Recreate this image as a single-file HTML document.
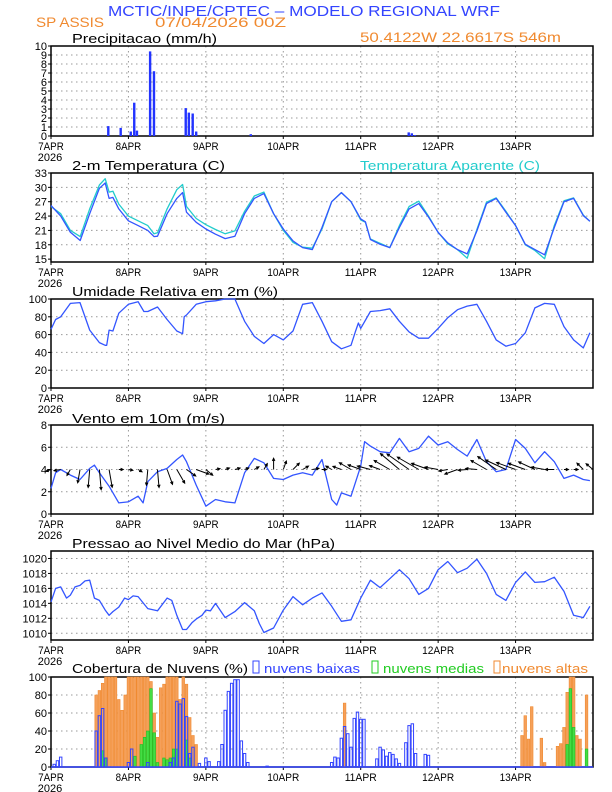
<!DOCTYPE html>
<html><head><meta charset="utf-8"><style>
html,body{margin:0;padding:0;background:#fff}
svg{display:block;font-family:"Liberation Sans",sans-serif}
</style></head><body>
<svg id="chart" width="612" height="792" viewBox="0 0 612 792" xmlns="http://www.w3.org/2000/svg">
<text x="108" y="16" font-size="15" fill="#3344ff" textLength="392" lengthAdjust="spacingAndGlyphs">MCTIC/INPE/CPTEC – MODELO REGIONAL WRF</text>
<text x="36" y="27" font-size="14" fill="#f08a30" textLength="68" lengthAdjust="spacingAndGlyphs">SP ASSIS</text>
<text x="155" y="27" font-size="14" fill="#f08a30" textLength="131" lengthAdjust="spacingAndGlyphs">07/04/2026 00Z</text>
<text x="360" y="42" font-size="14" fill="#f08a30" textLength="201" lengthAdjust="spacingAndGlyphs">50.4122W 22.6617S 546m</text>
<text x="72" y="43" font-size="13" textLength="145" lengthAdjust="spacingAndGlyphs">Precipitacao (mm/h)</text>
<text x="72" y="170" font-size="13" textLength="153" lengthAdjust="spacingAndGlyphs">2-m Temperatura (C)</text>
<text x="360" y="170" font-size="13" fill="#22cccc" textLength="180" lengthAdjust="spacingAndGlyphs">Temperatura Aparente (C)</text>
<text x="72" y="296" font-size="13" textLength="206" lengthAdjust="spacingAndGlyphs">Umidade Relativa em 2m (%)</text>
<text x="72" y="423" font-size="13" textLength="153" lengthAdjust="spacingAndGlyphs">Vento em 10m (m/s)</text>
<text x="72" y="548" font-size="13" textLength="263" lengthAdjust="spacingAndGlyphs">Pressao ao Nivel Medio do Mar (hPa)</text>
<text x="72" y="673" font-size="13" textLength="176" lengthAdjust="spacingAndGlyphs">Cobertura de Nuvens (%)</text>
<rect x="253" y="661" width="6" height="12" fill="none" stroke="#3344ff"/>
<text x="264" y="673" font-size="13" fill="#3344ff" textLength="96" lengthAdjust="spacingAndGlyphs">nuvens baixas</text>
<rect x="372" y="661" width="6" height="12" fill="none" stroke="#22cc22"/>
<text x="383" y="673" font-size="13" fill="#22cc22" textLength="101" lengthAdjust="spacingAndGlyphs">nuvens medias</text>
<rect x="494" y="661" width="6" height="12" fill="none" stroke="#f08a30"/>
<text x="502" y="673" font-size="13" fill="#f08a30" textLength="86" lengthAdjust="spacingAndGlyphs">nuvens altas</text>
</svg>
<script>
// ---------- data (times in days since 7APR 00Z) ----------
var dayLabels=["7APR","8APR","9APR","10APR","11APR","12APR","13APR"];
var precipT=[0.74,0.9,1.03,1.075,1.11,1.28,1.33,1.74,1.78,1.83,1.875,2.58,4.62,4.66,4.7];
var precipV=[1.1,0.9,0.5,3.7,0.6,9.4,7.2,3.1,2.6,2.5,0.5,0.2,0.4,0.3,0.1];
var tempT=[0,0.125,0.25,0.377,0.5,0.625,0.7,0.75,0.8,0.875,1,1.125,1.25,1.33,1.375,1.5,1.625,1.7,1.75,1.875,2,2.125,2.25,2.375,2.5,2.625,2.75,2.875,3,3.125,3.25,3.375,3.5,3.625,3.75,3.875,4,4.06,4.125,4.25,4.375,4.5,4.625,4.75,4.875,5,5.125,5.25,5.375,5.5,5.625,5.75,5.875,6,6.125,6.25,6.375,6.5,6.625,6.75,6.875,6.96];
var tempV=[26.2,24,20.6,18.9,24.5,29.8,30.9,27.7,27.9,25.5,23,22,21,19.7,19.8,24.5,27.7,28.9,24.8,22.7,21.3,20.2,19.3,19.8,24.5,27.7,28.7,24.5,21.3,18.8,17.4,17,21.6,27,28.9,27,23.4,22.8,19.1,18.1,17.4,21.6,25.5,26.6,23.8,20.6,18.4,17,16.1,20.9,26.6,27.7,24.8,22,18.1,17,15.9,21.6,27,27.7,24.1,22.9];
var appTempV=[26,24.5,21,19.7,25.5,30.5,31.8,29,29.2,26.5,24,23,22,20.3,20.5,25.5,29.5,30.6,26,23.5,22.2,21.2,20.3,20.9,25,28.2,29,24.5,21,18.5,17.5,17.3,21.3,27,28.9,27,23.2,22.7,19.2,18.3,17.4,22,26,27.1,24,20.6,18.2,17,15.2,21.2,26.9,27.8,25,22,18,16.8,15.1,22,27.2,27.8,24.2,22.9];
var rhT=[0,0.06,0.125,0.25,0.375,0.5,0.625,0.7,0.72,0.75,0.8,0.875,1,1.125,1.2,1.25,1.375,1.5,1.625,1.7,1.72,1.75,1.875,2,2.125,2.25,2.375,2.5,2.625,2.75,2.875,3,3.125,3.25,3.375,3.5,3.625,3.75,3.875,3.93,3.97,4,4.125,4.25,4.375,4.5,4.625,4.75,4.875,5,5.125,5.25,5.375,5.5,5.625,5.75,5.875,6,6.125,6.25,6.375,6.5,6.625,6.75,6.875,6.96];
var rhV=[66,77,80,95,96,65,51,48,48,65,64,84,94,97,86,86,91,77,64,61,80,82,94,97,98,100,100,75,58,50,60,54,64,94,96,75,52,44,48,63,73,67,86,87,89,75,63,56,56,67,79,88,92,94,75,54,47,50,62,90,95,94,69,54,45,62];
var windT=[0,0.06,0.125,0.25,0.375,0.5,0.56,0.625,0.75,0.875,1,1.125,1.19,1.25,1.375,1.5,1.625,1.7,1.75,1.875,2,2.125,2.25,2.375,2.5,2.625,2.75,2.875,3,3.125,3.25,3.375,3.5,3.625,3.69,3.75,3.875,4,4.05,4.125,4.25,4.375,4.5,4.625,4.75,4.875,5,5.125,5.25,5.375,5.5,5.625,5.75,5.875,6,6.125,6.25,6.375,6.5,6.625,6.75,6.875,6.96];
var windV=[2.3,3.7,4,3.5,3.1,4.1,4.4,3.7,2.5,1,1.1,1.6,1,2.9,3.8,4.1,4.9,5.3,4.7,2.6,0.7,1.3,1.1,1,3.7,5,4.6,3.2,3.1,3.5,3.7,3.5,4.9,1.3,0.8,1.9,1.6,4.3,6.5,6.1,5.6,5.5,6.8,5.6,5.9,7,6.2,6.5,5.8,5.2,6.7,4.7,3.8,4,6.7,5.9,4.6,5.6,4.7,3.2,3.5,3.1,3];
var arrowDir=[200,190,240,260,265,275,280,0,350,330,265,275,290,300,325,340,320,10,20,15,20,30,60,90,70,45,30,10,0,150,160,150,160,165,160,150,140,145,150,160,170,190,200,185,175,150,145,155,160,160,155,170,180,0,0,135,140];
var arrowSpd=[1.2,1.5,1.5,3,4,4.5,4,1,1,1,3.5,4,3.5,3.5,2.5,3,2,1,1,1.2,1,1.2,1.5,2.5,2,2,1.5,1.5,1,1.5,2,3,3,3,2.5,4,5.5,6,5.5,4,3,2,3,2,2.5,4,5,5,4.5,4,4,3,2,1,1,2,2];
var presT=[0,0.06,0.125,0.2,0.25,0.31,0.375,0.44,0.5,0.56,0.625,0.7,0.75,0.8,0.875,0.95,1,1.06,1.125,1.25,1.375,1.5,1.56,1.625,1.7,1.75,1.82,1.875,1.95,2,2.06,2.125,2.25,2.375,2.5,2.625,2.69,2.75,2.875,3,3.125,3.25,3.375,3.5,3.625,3.75,3.875,4,4.125,4.25,4.375,4.5,4.625,4.75,4.875,5,5.125,5.25,5.375,5.5,5.625,5.75,5.875,6,6.125,6.25,6.375,6.5,6.625,6.75,6.875,6.96];
var presV=[1014.2,1016,1016.2,1014.7,1015.1,1016.2,1016.4,1017,1017.1,1014.7,1014.4,1013.1,1012.4,1012.9,1013.5,1014.7,1014.5,1015,1014.9,1013.3,1013,1014.7,1014.4,1012.4,1010.5,1010.5,1011.4,1011.9,1012.4,1013.1,1013,1014,1012.1,1012.9,1014.1,1013,1011.3,1010.1,1010.7,1013.1,1014.9,1013.8,1014.7,1015.4,1013.6,1011.6,1011.8,1014.7,1017.1,1016.1,1017.3,1018.5,1017.3,1015.2,1016,1018.5,1019.6,1018.1,1018.7,1019.9,1018,1015.2,1014.4,1016.8,1018.2,1016.8,1016.9,1017.5,1015.6,1012.4,1012.1,1013.6];
var highH=[14,15,16,17,18,19,20,21,22,23,24,25,26,27,28,29,30,31,32,33,34,35,36,37,38,39,40,41,42,43,44,45,91,146,147,148,149,152,153,157,158,159,160,161,162,163,164,166];
var highV=[80,85,93,100,100,100,100,75,63,80,100,100,100,100,100,100,100,95,60,33,88,92,100,100,100,100,75,100,92,55,35,25,71,35,57,31,67,32,5,23,26,44,83,100,100,35,31,80];
var midH=[16,17,26,28,29,30,31,32,33,35,36,37,38,39,42,43,160,161,162,166];
var midV=[18,10,12,25,33,40,87,38,5,10,8,10,20,20,30,10,25,87,44,20];
var lowH=[1,2,3,14,15,16,17,24,25,30,37,38,39,40,41,42,43,44,46,48,49,52,53,54,55,56,57,58,59,60,61,67,87,88,89,90,91,92,93,94,95,96,97,101,102,103,104,105,106,107,108,110,111,112,113,116,117];
var lowV=[3,7,11,40,57,65,10,5,20,5,5,10,73,70,76,56,15,22,4,10,6,6,25,63,84,93,97,97,29,15,5,1,5,11,10,32,45,37,22,54,61,53,53,9,22,19,12,16,14,9,4,27,46,48,15,14,13];

// ---------- drawing ----------
var svg=document.getElementById('chart');
var NS='http://www.w3.org/2000/svg';
var X0=51,X1=593,DAYS=7;
function X(d){return X0+d*(X1-X0)/DAYS;}
function mk(tag,attrs,parent){var e=document.createElementNS(NS,tag);for(var k in attrs)e.setAttribute(k,attrs[k]);(parent||svg).appendChild(e);return e;}
function panel(name,top,bot,ymin,ymax,ticks,grid){
  var g=mk('g',{});
  
  
  var Y=function(v){return bot-(v-ymin)*(bot-top)/(ymax-ymin);};
  for(var d=1;d<DAYS;d++){
    var gl=mk('line',{x1:X(d),x2:X(d),y1:top,y2:bot,stroke:'#999','stroke-dasharray':'1.5,3.5','stroke-width':1},g);
    
    
  }
  grid.forEach(function(v){
    var hl=mk('line',{x1:X0,x2:X1,y1:Y(v),y2:Y(v),stroke:'#999','stroke-dasharray':'1.5,3.5','stroke-width':1},g);
    
    
  });
  ticks.forEach(function(v){
    var t=mk('text',{x:47,y:Y(v)+4,'font-size':11,'text-anchor':'end'},g);
    t.textContent=String(v);
    
    
    mk('line',{x1:X0-3,x2:X0,y1:Y(v),y2:Y(v),stroke:'#000'},g);
  });
  for(var d2=0;d2<DAYS;d2++){
    var dl=mk('text',{x:X(d2),y:bot+14,'font-size':11,'text-anchor':'middle',textLength:dayLabels[d2].length*6.4,lengthAdjust:'spacingAndGlyphs'},g);
    dl.textContent=dayLabels[d2];
    
    
    mk('line',{x1:X(d2),x2:X(d2),y1:bot,y2:bot+3,stroke:'#000'},g);
  }
  var yr=mk('text',{x:50,y:bot+25,'font-size':11,'text-anchor':'middle'},g);
  yr.textContent='2026';
  
  
  var fr=mk('rect',{x:X0,y:top,width:X1-X0,height:bot-top,fill:'none',stroke:'#000','stroke-width':1.5},g);
  
  
  return {g:g,Y:Y};
}
function line(p,T,V,color,name){
  var d=T.map(function(t,i){return (i?'L':'M')+X(t).toFixed(1)+','+p.Y(V[i]).toFixed(1);}).join('');
  var e=mk('path',{d:d,fill:'none',stroke:color,'stroke-width':1.3,'stroke-linejoin':'round'},p.g);
  
  
}
// precip
var pp=panel('precip',46,136,0,10,[0,1,2,3,4,5,6,7,8,9,10],[1,2,3,4,5,6,7,8,9]);
precipT.forEach(function(t,i){
  var b=mk('rect',{x:X(t)-1.2,y:pp.Y(precipV[i]),width:2.4,height:pp.Y(0)-pp.Y(precipV[i]),fill:'#2233ff'},pp.g);
  
  
});
// temperature
var tp=panel('temp',173,262,14.4,33,[15,18,21,24,27,30,33],[18,21,24,27,30]);
line(tp,tempT,appTempV,'#22cccc','apparent-temp-line');
line(tp,tempT,tempV,'#3355ff','temp-line');
// humidity
var hp=panel('rh',299,388,0,100,[0,20,40,60,80,100],[20,40,60,80]);
line(hp,rhT,rhV,'#3355ff','rh-line');
// wind
var wp=panel('wind',425,514,0,8,[0,2,4,6,8],[2,4,6]);
line(wp,windT,windV,'#3355ff','wind-speed-line');
arrowDir.forEach(function(a,i){
  var t=i/8, x=X(t), y=wp.Y(4), L=arrowSpd[i]*4.5, r=a*Math.PI/180;
  var x2=x+L*Math.cos(r), y2=y-L*Math.sin(r);
  var h1=r+Math.PI-0.45, h2=r+Math.PI+0.45, hl=3;
  var d='M'+x+','+y+'L'+x2+','+y2+'M'+(x2+hl*Math.cos(h1))+','+(y2-hl*Math.sin(h1))+'L'+x2+','+y2+'L'+(x2+hl*Math.cos(h2))+','+(y2-hl*Math.sin(h2));
  var e=mk('path',{d:d,stroke:'#000','stroke-width':1,fill:'none'},wp.g);
  
  
});
// pressure
var prp=panel('pressure',551,640,1009.1,1021,[1010,1012,1014,1016,1018,1020],[1010,1012,1014,1016,1018,1020]);
line(prp,presT,presV,'#3355ff','pressure-line');
// clouds
var cp=panel('cloud',677,767,0,100,[0,20,40,60,80,100],[20,40,60,80]);
var BW=(X1-X0)/168;
highH.forEach(function(h,i){
  var b=mk('rect',{x:X(h/24)-BW/2+0.3,y:cp.Y(highV[i]),width:BW-0.6,height:cp.Y(0)-cp.Y(highV[i]),fill:'#f5a05a',stroke:'#f08a30','stroke-width':0.6},cp.g);
  
  
});
midH.forEach(function(h,i){
  var b=mk('rect',{x:X(h/24)-BW/2+0.3,y:cp.Y(midV[i]),width:BW-0.6,height:cp.Y(0)-cp.Y(midV[i]),fill:'#44dd44',stroke:'#22bb22','stroke-width':0.6},cp.g);
  
  
});
lowH.forEach(function(h,i){
  var b=mk('rect',{x:X(h/24)-BW/2+0.4,y:cp.Y(lowV[i]),width:BW-0.8,height:cp.Y(0)-cp.Y(lowV[i]),fill:'none',stroke:'#3344ff','stroke-width':1},cp.g);
  
  
});
var base=mk('line',{x1:X0,x2:X1,y1:cp.Y(0),y2:cp.Y(0),stroke:'#3344ff','stroke-width':1.5},cp.g);


</script>
</body></html>
